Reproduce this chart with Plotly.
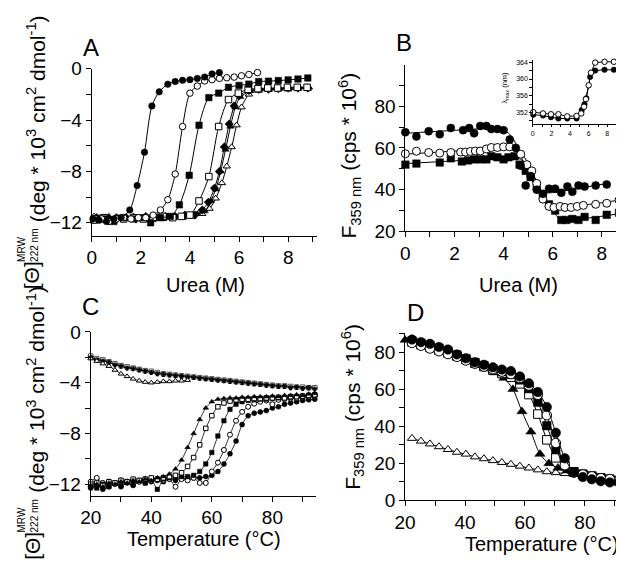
import plotly.graph_objects as go

W, H = 624, 567
FONT = "Liberation Sans, Arial, sans-serif"

# ---------------- Panel A: CD (222 nm) vs urea ----------------
A_fcirc_x = [0.05, 0.3, 0.6, 0.9, 1.2, 1.55, 1.85, 2.15, 2.45, 2.75, 3.1, 3.4, 3.7, 4.0, 4.3, 4.6, 4.9, 5.2]
A_fcirc_y = [-11.7, -11.8, -11.9, -11.7, -11.6, -11.0, -9.1, -6.5, -2.9, -1.8, -1.2, -1.0, -0.9, -0.85, -0.75, -0.65, -0.4, -0.3]
A_ocirc_x = [0.1, 0.4, 0.7, 1.0, 1.3, 1.6, 1.9, 2.2, 2.5, 2.8, 3.1, 3.4, 3.7, 4.0, 4.3, 4.6, 4.9, 5.2, 5.5, 5.8, 6.1, 6.4, 6.75]
A_ocirc_y = [-11.8, -11.7, -11.9, -11.7, -11.6, -11.7, -11.6, -11.6, -11.4, -11.0, -10.2, -8.2, -4.5, -1.9, -1.35, -0.95, -0.85, -0.75, -0.7, -0.65, -0.55, -0.45, -0.3]
A_fsq_x = [0.1, 0.5, 0.9, 1.3, 1.7, 2.05, 2.4, 2.8, 3.2, 3.57, 3.97, 4.37, 4.77, 5.17, 5.57, 6.0, 6.4, 6.8, 7.2, 7.6, 8.0, 8.4, 8.8]
A_fsq_y = [-11.8, -11.7, -11.9, -11.6, -11.7, -11.6, -12.0, -11.6, -11.5, -10.6, -8.3, -4.4, -2.25, -1.9, -1.45, -1.3, -1.2, -1.0, -0.97, -0.92, -0.87, -0.8, -0.72]
A_osq_x = [0.1, 0.5, 0.9, 1.3, 1.7, 2.1, 2.5, 2.9, 3.3, 3.65, 4.0, 4.37, 4.77, 5.17, 5.57, 5.97, 6.37, 6.77, 7.17, 7.57, 7.97, 8.37, 8.77]
A_osq_y = [-11.7, -11.6, -11.8, -11.7, -11.6, -11.7, -11.6, -11.5, -11.6, -11.5, -11.4, -10.3, -8.4, -4.5, -2.4, -1.9, -1.6, -1.55, -1.5, -1.5, -1.45, -1.45, -1.45]
A_fdia_x = [0.2, 0.6, 1.0, 1.4, 1.8, 2.2, 2.6, 3.0, 3.4, 3.8, 4.2, 4.5, 4.75, 5.0, 5.2, 5.4, 5.6, 5.8, 6.0, 6.4, 6.8, 7.2, 7.6, 8.0, 8.4, 8.8]
A_fdia_y = [-11.6, -11.7, -11.6, -11.6, -11.7, -11.5, -11.6, -11.5, -11.5, -11.4, -11.4, -11.0, -10.4, -9.3, -8.0, -6.1, -4.3, -2.9, -2.1, -1.7, -1.6, -1.6, -1.55, -1.5, -1.5, -1.5]
A_ftri_x = [0.3, 0.7, 1.1, 1.5, 1.9, 2.3, 2.7, 3.1, 3.5, 3.9, 4.3, 4.6, 4.85, 5.05, 5.25, 5.45, 5.65, 5.85, 6.05, 6.45, 6.85, 7.25, 7.65, 8.05, 8.45, 8.85]
A_ftri_y = [-11.6, -11.5, -11.6, -11.7, -11.6, -11.6, -11.5, -11.5, -11.6, -11.4, -11.3, -11.1, -10.3, -9.4, -8.0, -6.3, -4.5, -3.0, -2.2, -1.75, -1.6, -1.55, -1.55, -1.5, -1.45, -1.45]
A_otri_x = [0.1, 0.5, 0.9, 1.3, 1.7, 2.1, 2.5, 2.9, 3.3, 3.7, 4.1, 4.5, 4.8, 5.05, 5.3, 5.5, 5.7, 5.9, 6.1, 6.4, 6.8, 7.2, 7.6, 8.0, 8.4, 8.8]
A_otri_y = [-11.5, -11.6, -11.7, -11.6, -11.5, -11.6, -11.6, -11.7, -11.6, -11.6, -11.5, -11.3, -10.9, -10.1, -8.9, -7.6, -6.1, -4.4, -3.0, -2.0, -1.7, -1.65, -1.6, -1.6, -1.55, -1.55]

# ---------------- Panel B: fluorescence vs urea ----------------
B_fc_x = [0, 0.45, 0.95, 1.4, 1.85, 2.35, 2.6, 2.8, 3.05, 3.3, 3.5, 3.75, 4.0, 4.25, 4.5, 4.7, 4.9, 5.1, 5.35, 5.6, 5.85, 6.1, 6.35, 6.6, 6.8, 7.05, 7.3, 7.75, 8.2]
B_fc_y = [67.5, 65.5, 68, 66.5, 69.5, 68.5, 69.5, 67, 70.5, 70.5, 69, 69, 68.5, 64, 60, 51.5, 42, 46.5, 40, 38, 40.5, 40.5, 38.5, 41.5, 39, 42, 41.5, 42, 42.5]
B_oc_x = [0, 0.45, 0.95, 1.4, 1.85, 2.25, 2.45, 2.65, 2.85, 3.05, 3.3, 3.5, 3.75, 4.0, 4.25, 4.7, 4.95, 5.15, 5.35, 5.6, 5.85, 6.05, 6.3, 6.5, 6.75, 7.0, 7.25, 7.75, 8.2, 8.7]
B_oc_y = [57.2, 58.4, 57.8, 57.5, 57.8, 58, 58, 58.3, 58.5, 58.5, 59.5, 60.2, 60.2, 60.5, 60.5, 57, 52, 49, 43, 35.5, 32, 31.5, 32, 31.5, 31.5, 32, 32.5, 33, 33.5, 35]
B_fs_x = [0, 0.45, 1.4, 1.85, 2.3, 2.55, 2.8, 3.05, 3.3, 3.5, 3.75, 4.0, 4.2, 4.45, 4.65, 4.9, 5.1, 5.35, 5.6, 5.85, 6.1, 6.35, 6.55, 6.8, 7.05, 7.3, 7.75, 8.2, 8.7]
B_fs_y = [52, 52.5, 53, 55, 53.5, 54, 54.5, 54.5, 54.5, 56, 55.5, 54.5, 55.5, 56, 52, 49, 46, 42, 37, 33, 30, 25.5, 25.5, 26, 25.5, 27, 25.5, 28, 29]
# fitted curves (read as knots from the figure)
B_fit_fc_x = [0, 1, 2, 3, 3.6, 3.95, 4.25, 4.5, 4.8, 5.1, 5.4, 5.7, 6.0, 7.0, 8.2]
B_fit_fc_y = [67.0, 67.7, 68.4, 69.1, 69.4, 69.0, 66.5, 62.0, 53.5, 45.5, 40.5, 38.6, 38.6, 40.5, 43.0]
B_fit_oc_x = [0, 2, 4, 4.4, 4.7, 5.0, 5.3, 5.6, 5.9, 6.2, 7.5, 8.7]
B_fit_oc_y = [57, 58.5, 60.2, 60.3, 58, 52.5, 45, 37.5, 33, 31.7, 33, 35]
B_fit_fs_x = [0, 2, 4, 4.4, 4.7, 5.0, 5.3, 5.6, 5.9, 6.2, 6.5, 7.5, 8.7]
B_fit_fs_y = [52.5, 53.8, 55.2, 55.4, 54.5, 51, 45, 38, 31.5, 27, 25.5, 26.5, 28.5]

# inset: lambda max vs urea
I_oc_x = [0.05, 1.1, 1.95, 2.75, 3.7, 4.7, 5.2, 5.5, 5.7, 6.0, 6.25, 6.7, 7.7, 8.7]
I_oc_y = [352.1, 351.8, 351.6, 351.6, 351.1, 351.2, 351.8, 353.4, 355.2, 358.5, 361.5, 363.9, 364.1, 364.1]
I_fc_x = [0.05, 1.1, 1.95, 2.75, 3.7, 4.7, 5.25, 5.55, 5.75, 6.15, 6.7, 7.7, 8.7]
I_fc_y = [351.5, 351.3, 350.9, 350.6, 350.6, 350.6, 352.6, 354.0, 355.4, 360.5, 362.0, 362.2, 362.2]

# ---------------- Panel C: CD vs temperature ----------------
C_T = [20, 22, 24, 26, 28, 30, 32, 34, 36, 38, 40, 42, 44, 46, 48, 50, 52, 54, 56, 58,
       60, 62, 64, 66, 68, 70, 72, 74, 76, 78, 80, 82, 84, 86, 88, 90, 92, 94]
C_ftri = [-12.1, -12.0, -12.2, -11.9, -12.0, -11.8, -11.9, -11.7, -11.8, -11.6, -11.7, -11.5, -11.4, -11.2, -10.8, -10.1, -9.1, -8.0, -6.9, -6.0,
          -5.5, -5.3, -5.25, -5.2, -5.2, -5.15, -5.15, -5.1, -5.1, -5.1, -5.05, -5.1, -5.0, -5.0, -4.95, -5.0, -4.9, -4.85]
C_osq = [-12.0, -11.9, -12.1, -11.8, -11.9, -11.7, -11.8, -11.6, -11.7, -11.6, -11.5, -11.6, -11.5, -11.4, -11.3, -11.1, -10.6, -9.9, -8.9, -7.6,
         -6.6, -5.9, -5.6, -5.45, -5.35, -5.3, -5.3, -5.25, -5.25, -5.2, -5.2, -5.15, -5.2, -5.1, -5.1, -5.05, -5.0, -4.95]
C_fsq = [-12.2, -12.3, -12.0, -12.2, -11.9, -12.1, -11.8, -12.0, -11.7, -11.9, -11.6, -12.4, -11.6, -11.5, -11.5, -11.4, -11.4, -11.3, -11.0, -10.4,
         -9.5, -8.2, -7.0, -6.1, -5.7, -5.5, -5.4, -5.35, -5.3, -5.3, -5.25, -5.2, -5.2, -5.15, -5.1, -5.1, -5.05, -5.0]
C_ocirc = [-11.8, -11.5, -11.9, -11.8, -11.9, -11.7, -11.8, -11.7, -11.8, -11.6, -11.7, -11.6, -11.7, -11.6, -12.2, -11.6, -11.7, -11.5, -11.9, -11.9,
           -11.0, -10.3, -9.3, -8.1, -7.0, -6.3, -5.9, -5.65, -5.5, -5.4, -5.7, -5.35, -5.3, -5.25, -5.2, -5.15, -5.1, -5.05]
C_fcirc = [-12.3, -12.1, -12.4, -12.2, -12.0, -12.2, -11.9, -12.1, -11.8, -11.9, -11.8, -11.7, -11.8, -11.6, -11.7, -11.5, -11.6, -11.5, -11.5, -11.4,
           -11.3, -11.0, -10.4, -9.6, -8.6, -7.3, -6.6, -6.4, -6.3, -6.2, -6.0, -5.9, -5.7, -5.6, -5.5, -5.4, -5.35, -5.3]
C_dtri = [-2.0, -2.2, -2.3, -2.4, -2.6, -2.7, -2.85, -2.9, -3.0, -3.1, -3.2, -3.3, -3.35, -3.4, -3.45, -3.5, -3.55, -3.6, -3.65, -3.7,
          -3.75, -3.8, -3.85, -3.9, -3.95, -4.0, -4.05, -4.1, -4.15, -4.2, -4.25, -4.3, -4.3, -4.4, -4.35, -4.45, -4.4, -4.5]
C_osq2 = [-1.9, -2.1, -2.2, -2.35, -2.5, -2.65, -2.75, -2.85, -2.95, -3.05, -3.1, -3.2, -3.3, -3.35, -3.4, -3.45, -3.5, -3.55, -3.6, -3.65,
          -3.7, -3.75, -3.8, -3.85, -3.9, -3.95, -4.0, -4.05, -4.1, -4.15, -4.2, -4.25, -4.25, -4.3, -4.35, -4.35, -4.4, -4.4]
C_otri_T = [20, 22, 24, 26, 28, 30, 32, 34, 36, 38, 40, 42, 44, 46, 48, 50, 52]
C_otri = [-2.1, -2.3, -2.5, -2.7, -3.0, -3.3, -3.5, -3.7, -3.85, -3.95, -4.0, -3.95, -3.9, -3.9, -3.85, -3.85, -3.8]

# ---------------- Panel D: fluorescence vs temperature ----------------
D_T = [22.3, 25.3, 28.3, 31.3, 34.3, 37.3, 40.3, 43.3, 46.3, 49.3, 52.3, 55.3, 58.3, 61.3, 64.3, 67.3, 70.3, 73.3, 76.3, 79.3, 82.3, 85.3, 88.3, 91.3, 94.3]
D_fcirc = [86.8, 85.4, 84.5, 82.8, 81.4, 78.8, 76.7, 74.5, 73.2, 71.8, 70.6, 69.8, 66.9, 63.2, 58.5, 50.4, 36.5, 22.7, 15.2, 12.6, 11.4, 10.4, 9.7, 9.7, 8.8]
D_ocirc = [85.0, 83.5, 82.0, 80.5, 79.0, 77.5, 75.5, 73.8, 72.2, 70.8, 69.5, 68.2, 66.0, 62.0, 57.0, 46.0, 31.0, 19.0, 15.0, 14.0, 13.0, 12.0, 11.5, 10.5, 10.0]
D_fsq = [86.0, 84.8, 83.5, 82.0, 80.5, 78.5, 76.5, 74.5, 72.8, 71.0, 69.5, 68.0, 65.0, 60.3, 53.0, 40.3, 27.4, 18.9, 15.5, 14.0, 13.0, 12.0, 11.0, 10.5, 9.8]
D_osq = [85.5, 84.0, 82.5, 81.0, 79.5, 77.8, 76.0, 74.0, 72.2, 70.3, 68.5, 66.5, 62.9, 57.1, 46.6, 32.7, 23.0, 18.7, 15.5, 14.2, 13.2, 12.2, 11.5, 10.8, 10.0]
D_ftri_T = [20, 23, 26, 29, 32, 35, 38, 41, 44, 47, 50, 53, 56, 59, 62, 65, 68, 71, 74, 77, 80, 83, 86, 89, 92]
D_ftri = [86.5, 84.5, 83.0, 81.5, 80.0, 78.5, 77.0, 75.5, 73.5, 71.5, 69.0, 66.0, 60.0, 48.0, 37.0, 25.0, 20.0, 17.5, 16.0, 14.5, 13.5, 12.5, 11.5, 10.5, 10.0]
D_otri = [33.5, 32.0, 30.5, 29.0, 27.5, 26.0, 25.0, 23.5, 22.5, 21.5, 20.5, 19.5, 18.5, 17.5, 16.5, 15.5, 15.0, 14.5, 14.0, 13.5, 13.0, 12.5, 12.0, 11.5, 11.0]


def px(x):
    return x / W


def py(y):
    return 1 - y / H


fig = go.Figure()

FILLED = dict(color="black", line=dict(color="black", width=0.5))
OPEN = dict(color="white", line=dict(color="black", width=1))


def add(x, y, ax, symbol, style, size, mode="lines+markers", lw=1, shape="spline", **kw):
    m = dict(symbol=symbol, size=size, **style)
    fig.add_trace(go.Scatter(
        x=x, y=y, mode=mode, xaxis="x" + ax, yaxis="y" + ax,
        marker=m, line=dict(color="black", width=lw, shape=shape, smoothing=0.8),
        cliponaxis=False, showlegend=False, hoverinfo="skip", **kw))


# Panel A
for xs, ys, sym, st in [
    (A_otri_x, A_otri_y, "triangle-up", OPEN),
    (A_ftri_x, A_ftri_y, "triangle-up", FILLED),
    (A_fdia_x, A_fdia_y, "diamond", FILLED),
    (A_osq_x, A_osq_y, "square", OPEN),
    (A_fsq_x, A_fsq_y, "square", FILLED),
    (A_ocirc_x, A_ocirc_y, "circle", OPEN),
    (A_fcirc_x, A_fcirc_y, "circle", FILLED),
]:
    add(xs, ys, "", sym, st, 6.5)

# Panel B
add(B_fit_fc_x, B_fit_fc_y, "2", "circle", FILLED, 1, mode="lines")
add(B_fit_oc_x, B_fit_oc_y, "2", "circle", FILLED, 1, mode="lines")
add(B_fit_fs_x, B_fit_fs_y, "2", "circle", FILLED, 1, mode="lines")
add(B_fs_x, B_fs_y, "2", "square", FILLED, 7.5, mode="markers")
add(B_oc_x, B_oc_y, "2", "circle", OPEN, 8, mode="markers")
add(B_fc_x, B_fc_y, "2", "circle", FILLED, 8, mode="markers")

# Inset
add(I_fc_x, I_fc_y, "5", "circle", FILLED, 5.5, shape="linear")
add(I_oc_x, I_oc_y, "5", "circle", OPEN, 5.5, shape="linear")

# Panel C
add(C_T, C_osq2, "3", "square", dict(color="white", line=dict(color="#555", width=1)), 4.5, lw=0.8)
add(C_T, C_dtri, "3", "triangle-down", FILLED, 5, lw=0.8,
    error_y=dict(type="constant", value=0.15, color="black", thickness=1, width=1.5))
add(C_otri_T, C_otri, "3", "triangle-up", OPEN, 5, lw=0.8)
add(C_T, C_fcirc, "3", "circle", FILLED, 5, lw=0.8)
add(C_T, C_ocirc, "3", "circle", OPEN, 5, lw=0.8)
add(C_T, C_fsq, "3", "square", FILLED, 4.5, lw=0.8)
add(C_T, C_osq, "3", "square", OPEN, 4.5, lw=0.8)
add(C_T, C_ftri, "3", "triangle-up", FILLED, 5, lw=0.8)

# Panel D
add(D_T, D_otri, "4", "triangle-up", OPEN, 8)
add(D_ftri_T, D_ftri, "4", "triangle-up", FILLED, 9)
add(D_T, D_osq, "4", "square", OPEN, 8.5)
add(D_T, D_fsq, "4", "square", FILLED, 8.5)
add(D_T, D_ocirc, "4", "circle", OPEN, 9.5)
add(D_T, D_fcirc, "4", "circle", FILLED, 9.5)


def axis(domain, rng, anchor, dtick, tick0, minor, fs=19, tl=5):
    return dict(domain=domain, range=rng, anchor=anchor, showline=True, linecolor="black", linewidth=1,
                ticks="outside", ticklen=tl, tickwidth=1, tickcolor="black", showgrid=False, zeroline=False,
                tickfont=dict(size=fs, family=FONT, color="black"), fixedrange=True,
                tickmode="linear", dtick=dtick, tick0=tick0,
                minor=dict(dtick=minor, tick0=tick0, ticks="outside", ticklen=tl, tickwidth=1,
                           tickcolor="black", showgrid=False))


fig.update_layout(
    width=W, height=H, autosize=False,
    margin=dict(l=0, r=0, t=0, b=0),
    paper_bgcolor="white", plot_bgcolor="rgba(0,0,0,0)",
    font=dict(family=FONT, color="black"),
    xaxis=axis([px(74), px(303)], [0, 9.16], "y", 2, 0, 1),
    yaxis=axis([py(226), py(52.7)], [-13.0, 0], "x", 4, 0, 2),
    xaxis2=axis([px(393.3), px(618)], [0, 8.99], "y2", 2, 0, 1),
    yaxis2=axis([py(221.7), py(48.3)], [20, 99.9], "x2", 20, 20, 10),
    xaxis3=axis([px(73), px(302)], [20, 94.3], "y3", 20, 20, 10),
    yaxis3=axis([py(496), py(326)], [-12.9, 0], "x3", 4, 0, 2),
    xaxis4=axis([px(393), px(620)], [20, 94.4], "y4", 20, 20, 10),
    yaxis4=axis([py(501), py(327)], [0, 90.4], "x4", 20, 0, 10),
    xaxis5=axis([px(523), px(615)], [0, 9.7], "y5", 2, 0, 1, fs=7, tl=2.5),
    yaxis5=axis([py(110), py(43.3)], [349.3, 364.6], "x5", 4, 352, 2, fs=7, tl=2.5),
)

ann = []


def txt(x, y, text, size, angle=0, xanchor="center", yanchor="middle", align="center"):
    ann.append(dict(x=px(x), y=py(y), xref="paper", yref="paper", text=text, showarrow=False,
                    textangle=angle, xanchor=xanchor, yanchor=yanchor, align=align,
                    font=dict(size=size, family=FONT, color="black")))


# panel letters
txt(73, 31, "A", 24)
txt(392, 25, "B", 24)
txt(73, 300, "C", 24)
txt(404, 306, "D", 24)
# x titles
txt(190, 277, "Urea (M)", 20)
txt(508, 277, "Urea (M)", 20)
txt(188, 541, "Temperature (°C)", 20)
txt(532, 546, "Temperature (°C)", 20)
# y titles A and C
for base in (0, 281):
    txt(13, 284 + base, "[Θ]", 21, angle=-90, yanchor="bottom")
    txt(9, 255 + base, "MRW<br>222 nm", 10, angle=-90, yanchor="bottom", align="left")
    txt(17, 214 + base, "(deg * 10<sup>3</sup> cm<sup>2</sup> dmol<sup>-1</sup>)", 21, angle=-90, yanchor="bottom")
# y titles B and D
txt(336, 231, "F<sub>359 nm</sub> (cps * 10<sup>6</sup>)", 21, angle=-90, yanchor="bottom")
txt(340, 492, "F<sub>359 nm</sub> (cps * 10<sup>6</sup>)", 21, angle=-90, yanchor="bottom")
# inset y title
txt(495, 72, "λ<sub>max</sub> (nm)", 7.5, angle=-90)

fig.update_layout(annotations=ann)
fig.write_html("out.html")
